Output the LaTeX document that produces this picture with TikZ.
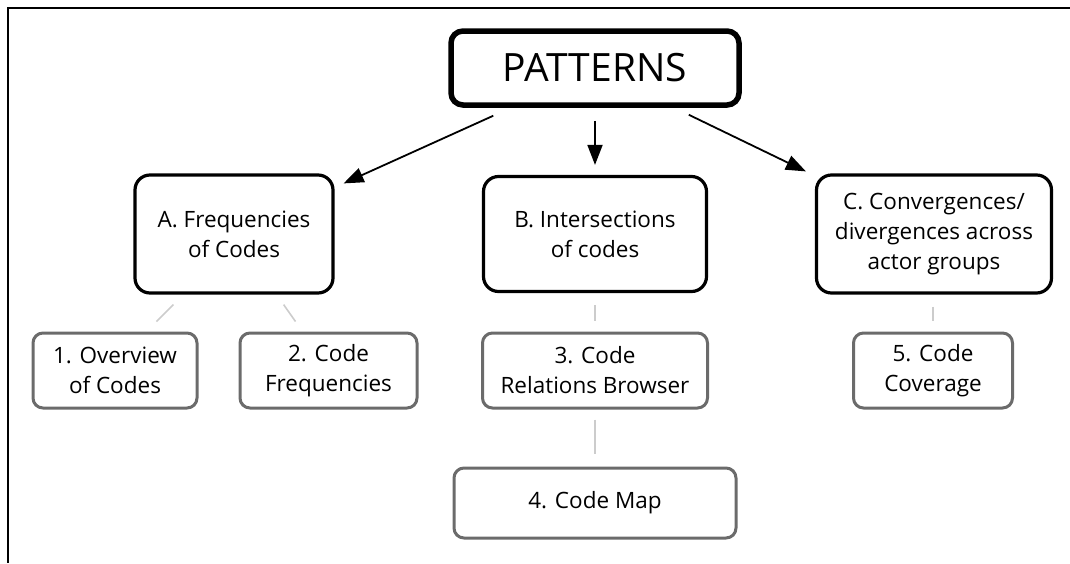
\documentclass[tikz,border=0pt]{standalone}
\usepackage{fontspec}
\setmainfont{Open Sans}
\usetikzlibrary{calc,arrows.meta}
\definecolor{BoxGray}{rgb}{0.42,0.42,0.42}
\definecolor{LinkGray}{rgb}{0.80,0.80,0.80}

\begin{document}
\begin{tikzpicture}[x=1pt,y=-1pt,
  topbox/.style={draw,line width=5.5pt,rounded corners=12pt,inner sep=0pt,
    minimum width=288pt,minimum height=74pt,font=\fontsize{39}{48}\selectfont},
  groupbox/.style={draw,line width=3.2pt,rounded corners=15pt,inner sep=0pt,
    align=center,font=\fontsize{22.5}{30}\selectfont},
  toolbox/.style={draw=BoxGray,line width=3pt,rounded corners=10pt,inner sep=0pt,
    align=center,font=\fontsize{22.5}{30}\selectfont},
  arr/.style={line width=1.8pt,-{Triangle[length=20pt,width=15pt]}},
  link/.style={draw=LinkGray,line width=1.6pt}]
\useasboundingbox (0,0) rectangle (1070,563);
\draw[line width=2.5pt] (1070,8) -- (8,8) -- (8,563);

\node[topbox] (pat) at (595,68) {PATTERNS};

\node[groupbox,minimum width=198pt,minimum height=118pt] (A) at (234,234)
  {A. Frequencies\\of Codes};
\node[groupbox,minimum width=223pt,minimum height=115pt] (B) at (595,234)
  {B. Intersections\\of codes};
\node[groupbox,minimum width=235pt,minimum height=118pt] (C) at (934,234)
  {C. Convergences/\\divergences across\\actor groups};

\node[toolbox,minimum width=164pt,minimum height=75pt] (t1) at (115,370.5)
  {1. Overview\\of Codes};
\node[toolbox,minimum width=177pt,minimum height=75pt] (t2) at (328.5,370.5)
  {2. Code\\Frequencies};
\node[toolbox,minimum width=225pt,minimum height=75pt] (t3) at (595,370.5)
  {3. Code\\Relations Browser};
\node[toolbox,minimum width=282pt,minimum height=70pt] (t4) at (595,503)
  {4. Code Map};
\node[toolbox,minimum width=159pt,minimum height=75pt] (t5) at (933,370.5)
  {5. Code\\Coverage};

% arrows from the top
\draw[arr] ($(pat.south west)+(45,8)$) -- ($(A.north east)+(9,10)$);
\draw[arr,shorten <=13pt,shorten >=10pt] (pat.south) -- (B.north);
\draw[arr] ($(pat.south east)+(-53,7)$) -- ($(C.north west)+(-9,-2)$);

% links to the tools
\draw[link] ($(A.south west)+(40,10)$) -- ($(t1.north east)+(-42,-10)$);
\draw[link] ($(A.south east)+(-51,10)$) -- ($(t2.north west)+(57,-10)$);
\draw[link,shorten <=12pt,shorten >=11pt] (B.south) -- (t3.north);
\draw[link,shorten <=10pt,shorten >=13pt] (t3.south) -- (t4.north);
\draw[link,shorten <=12pt,shorten >=11pt] (C.south -| t5.north) -- (t5.north);
\end{tikzpicture}
\end{document}
